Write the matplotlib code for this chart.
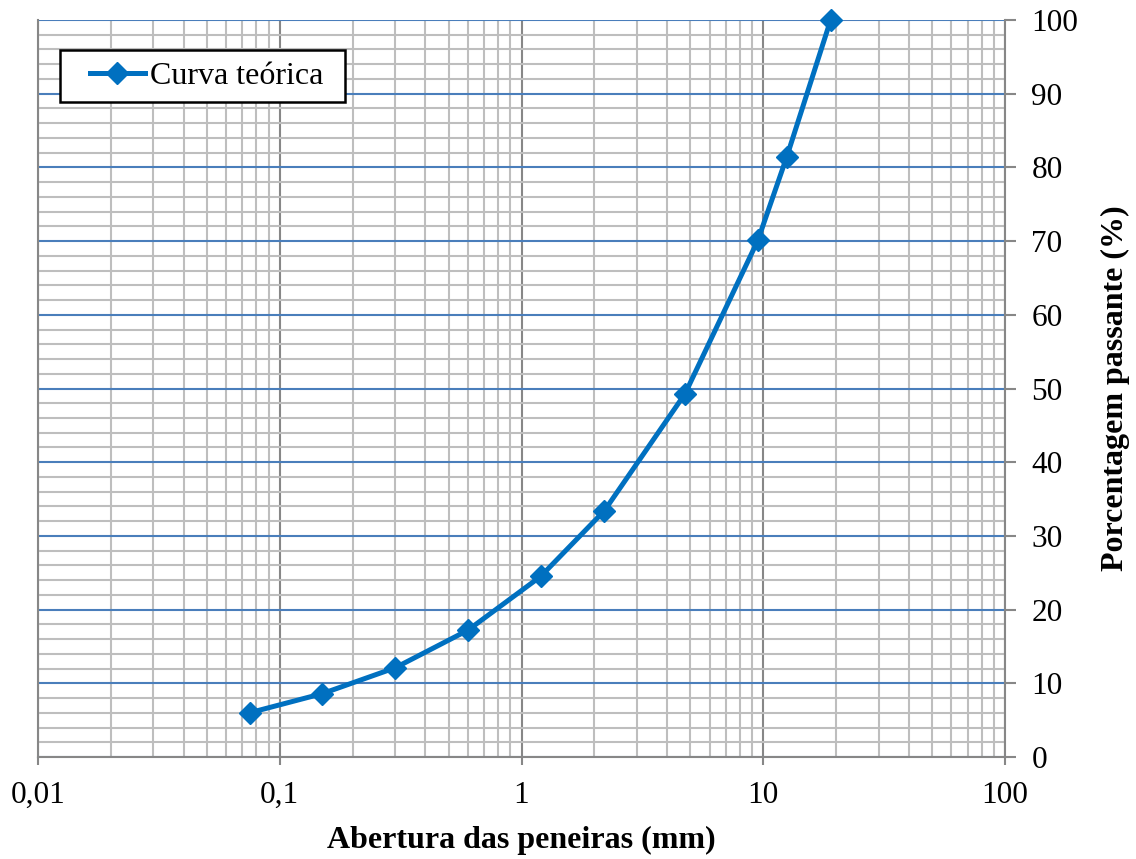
import matplotlib.pyplot as plt
import numpy as np
from matplotlib.patches import Rectangle
from matplotlib.ticker import FixedLocator, FuncFormatter, NullFormatter

plt.rcParams["font.family"] = ["Liberation Serif", "DejaVu Serif"]

# sieve openings (mm) and theoretical passing (%)
abertura = [0.075, 0.15, 0.3, 0.6, 1.2, 2.2, 4.75, 9.5, 12.5, 19.0]
passante = [6.0, 8.6, 12.1, 17.2, 24.5, 33.4, 49.3, 70.1, 81.4, 100.0]

x_ticks = [0.01, 0.1, 1, 10, 100]
y_ticks = [0, 10, 20, 30, 40, 50, 60, 70, 80, 90, 100]

BLUE = "#0070C0"
GRID_BLUE = "#4A7EBB"
GRID_DARK = "#878787"
GRID_LIGHT = "#BEBEBE"

W, H = 1136, 859
L, R, T, B = 38, 1005, 20, 757  # plot area in pixels

fig = plt.figure(figsize=(W / 100, H / 100), dpi=100)
ax = fig.add_axes([L / W, 1 - B / H, (R - L) / W, (B - T) / H])

ax.set_xscale("log")
ax.set_xlim(0.01, 100)
ax.set_ylim(0, 100)

# grid: gray verticals (darker at decades), gray minor / blue major horizontals
minor_x = [m * 10.0 ** e for e in range(-2, 2) for m in range(2, 10)]
ax.xaxis.set_major_locator(FixedLocator(x_ticks))
ax.xaxis.set_minor_locator(FixedLocator(minor_x))
ax.xaxis.set_minor_formatter(NullFormatter())
ax.yaxis.set_major_locator(FixedLocator(y_ticks))
ax.yaxis.set_minor_locator(FixedLocator(np.arange(0, 101, 2)))

ax.grid(which="minor", axis="both", color=GRID_LIGHT, lw=1.5)
ax.grid(which="major", axis="x", color=GRID_DARK, lw=1.5)
ax.grid(which="major", axis="y", color=GRID_BLUE, lw=1.5)
ax.set_axisbelow(True)

for side in ["left", "bottom", "right"]:
    ax.spines[side].set_color(GRID_DARK)
    ax.spines[side].set_linewidth(1.5)
ax.spines["top"].set_visible(False)

ax.plot(abertura, passante, color=BLUE, lw=3.6, marker="D", ms=11.5,
        mec=BLUE, mfc=BLUE, label="Curva teórica", clip_on=False, zorder=5)

fmt = FuncFormatter(lambda v, p: f"{v:g}".replace(".", ","))
ax.xaxis.set_major_formatter(fmt)

ax.yaxis.tick_right()
ax.yaxis.set_label_position("right")
ax.tick_params(axis="y", which="major", direction="out", length=8, width=1.5,
               color=GRID_DARK, pad=11, labelsize=22.5)
ax.tick_params(axis="x", which="major", direction="out", length=6, width=1.5,
               color=GRID_DARK, pad=11, labelsize=22.5)
ax.tick_params(which="minor", length=0)

ax.set_xlabel("Abertura das peneiras (mm)", fontsize=23, fontweight="bold", labelpad=12)
ax.set_ylabel("Porcentagem passante (%)", fontsize=23, fontweight="bold", labelpad=16)

# legend box drawn separately so the inner padding can be wider on the left
def px_to_axes(x, y):
    return (x - L) / (R - L), (B - y) / (B - T)

x0, y0 = px_to_axes(60, 102)
x1, y1 = px_to_axes(345, 50)
ax.add_patch(Rectangle((x0, y0), x1 - x0, y1 - y0, transform=ax.transAxes,
                       facecolor="white", edgecolor="black", lw=1.8, zorder=6,
                       clip_on=False))
leg = ax.legend(loc="center left", bbox_to_anchor=px_to_axes(90, 76), borderaxespad=0,
                fontsize=23, frameon=False, handlelength=1.72, borderpad=0,
                handletextpad=0.16)
leg.set_zorder(7)

fig.savefig("out.png", dpi=100)
